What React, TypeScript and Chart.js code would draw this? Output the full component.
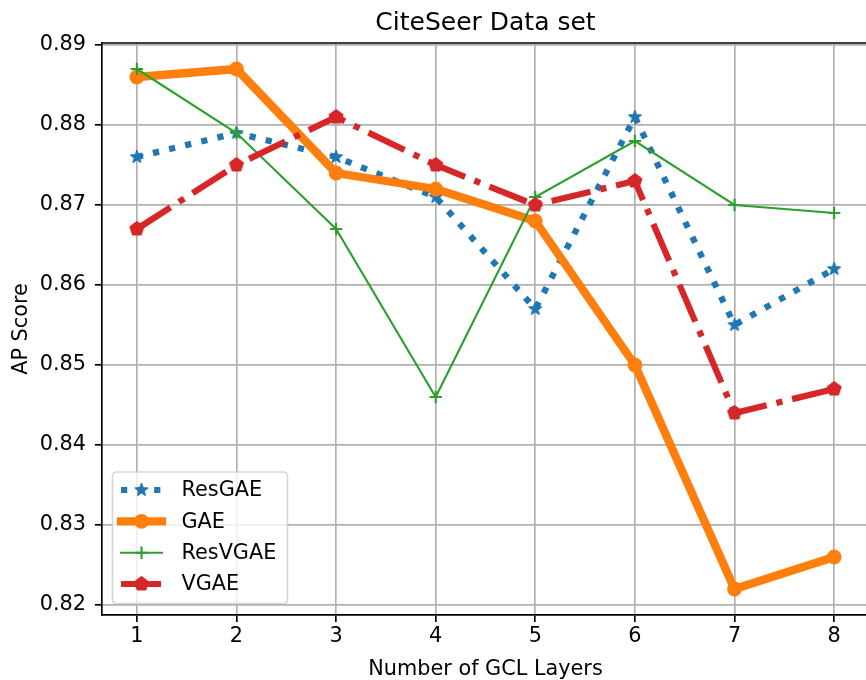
import { useEffect, useRef } from 'react';
import { Chart, registerables } from 'chart.js';

Chart.register(...registerables);

const layers = [1, 2, 3, 4, 5, 6, 7, 8];
const resGAE = [0.876, 0.879, 0.876, 0.871, 0.857, 0.881, 0.855, 0.862];
const gae = [0.886, 0.887, 0.874, 0.872, 0.868, 0.85, 0.822, 0.826];
const resVGAE = [0.887, 0.879, 0.867, 0.846, 0.871, 0.878, 0.87, 0.869];
const vgae = [0.867, 0.875, 0.881, 0.875, 0.87, 0.873, 0.844, 0.847];
const seriesNames = ['ResGAE', 'GAE', 'ResVGAE', 'VGAE'];
const xTicks = [1, 2, 3, 4, 5, 6, 7, 8];
const yTicks = [0.82, 0.83, 0.84, 0.85, 0.86, 0.87, 0.88, 0.89];
const titleText = 'CiteSeer Data set';
const xLabel = 'Number of GCL Layers';
const yLabel = 'AP Score';

const FONT = "'DejaVu Sans', sans-serif";
const BLUE = '#1f77b4';
const ORANGE = '#ff7f0e';
const GREEN = '#2ca02c';
const RED = '#d62728';
const PT = 2.083;

function polyPath(ctx: CanvasRenderingContext2D, cx: number, cy: number, r: number, n: number, inner: number) {
  ctx.beginPath();
  const pts = inner > 0 ? n * 2 : n;
  for (let i = 0; i < pts; i++) {
    const rr = inner > 0 && i % 2 === 1 ? r * inner : r;
    const a = -Math.PI / 2 + (i * 2 * Math.PI) / pts;
    const x = cx + rr * Math.cos(a);
    const y = cy + rr * Math.sin(a);
    if (i === 0) ctx.moveTo(x, y);
    else ctx.lineTo(x, y);
  }
  ctx.closePath();
}

function drawMarkerShape(ctx: CanvasRenderingContext2D, kind: string, cx: number, cy: number) {
  ctx.save();
  if (kind === 'star') {
    polyPath(ctx, cx, cy, 6.3, 5, 0.381966);
    ctx.fillStyle = BLUE;
    ctx.strokeStyle = BLUE;
    ctx.lineWidth = 1.6;
    ctx.lineJoin = 'round';
    ctx.fill();
    ctx.stroke();
  } else if (kind === 'pent') {
    polyPath(ctx, cx, cy, 6.9, 5, 0);
    ctx.fillStyle = RED;
    ctx.strokeStyle = RED;
    ctx.lineWidth = 1.8;
    ctx.lineJoin = 'round';
    ctx.fill();
    ctx.stroke();
  } else if (kind === 'circle') {
    ctx.beginPath();
    ctx.arc(cx, cy, 7.4, 0, Math.PI * 2);
    ctx.fillStyle = ORANGE;
    ctx.fill();
  } else if (kind === 'plus') {
    ctx.beginPath();
    ctx.moveTo(cx - 6.2, cy);
    ctx.lineTo(cx + 6.2, cy);
    ctx.moveTo(cx, cy - 6.2);
    ctx.lineTo(cx, cy + 6.2);
    ctx.strokeStyle = GREEN;
    ctx.lineWidth = PT;
    ctx.stroke();
  }
  ctx.restore();
}

function makeMarker(kind: string): HTMLCanvasElement {
  const c = document.createElement('canvas');
  c.width = 18;
  c.height = 18;
  const ctx = c.getContext('2d') as CanvasRenderingContext2D;
  drawMarkerShape(ctx, kind, 9, 9);
  return c;
}

const decorPlugin = {
  id: 'decor',
  afterDraw(chart: any) {
    const { ctx, chartArea: ca } = chart;
    ctx.save();
    // top spine
    ctx.strokeStyle = '#000';
    ctx.lineWidth = 0.8 * PT;
    ctx.beginPath();
    ctx.moveTo(ca.left, ca.top);
    ctx.lineTo(ca.right, ca.top);
    ctx.stroke();

    const axCenter = (ca.left + 869) / 2;
    ctx.fillStyle = '#000';
    ctx.textAlign = 'center';
    ctx.textBaseline = 'alphabetic';
    ctx.font = `25px ${FONT}`;
    ctx.fillText(titleText, axCenter, 30);
    ctx.font = `20.8px ${FONT}`;
    ctx.fillText(xLabel, axCenter, 675);
    ctx.save();
    ctx.translate(27, (ca.top + ca.bottom) / 2);
    ctx.rotate(-Math.PI / 2);
    ctx.fillText(yLabel, 0, 0);
    ctx.restore();

    // legend
    const bx = 112.5, by = 472, bw = 175, bh = 131.5, rad = 4;
    ctx.beginPath();
    ctx.moveTo(bx + rad, by);
    ctx.lineTo(bx + bw - rad, by);
    ctx.quadraticCurveTo(bx + bw, by, bx + bw, by + rad);
    ctx.lineTo(bx + bw, by + bh - rad);
    ctx.quadraticCurveTo(bx + bw, by + bh, bx + bw - rad, by + bh);
    ctx.lineTo(bx + rad, by + bh);
    ctx.quadraticCurveTo(bx, by + bh, bx, by + bh - rad);
    ctx.lineTo(bx, by + rad);
    ctx.quadraticCurveTo(bx, by, bx + rad, by);
    ctx.closePath();
    ctx.fillStyle = 'rgba(255,255,255,0.8)';
    ctx.fill();
    ctx.strokeStyle = 'rgba(204,204,204,0.8)';
    ctx.lineWidth = 1.6;
    ctx.stroke();

    const rows = [490, 521.3, 552.7, 584];
    const x0 = 121, x1 = 162, xm = 141.5;
    const styles = [
      { color: BLUE, width: 3 * PT, dash: [3 * PT, 4.95 * PT], cap: 'butt', marker: 'star' },
      { color: ORANGE, width: 4 * PT, dash: [], cap: 'square', marker: 'circle' },
      { color: GREEN, width: PT, dash: [], cap: 'square', marker: 'plus' },
      { color: RED, width: 3 * PT, dash: [19.2 * PT, 4.8 * PT, 3 * PT, 4.8 * PT], cap: 'butt', marker: 'pent' },
    ];
    styles.forEach((s, i) => {
      const y = rows[i];
      ctx.save();
      ctx.strokeStyle = s.color;
      ctx.lineWidth = s.width;
      ctx.setLineDash(s.dash);
      ctx.lineCap = s.cap;
      ctx.beginPath();
      ctx.moveTo(x0, y);
      ctx.lineTo(x1, y);
      ctx.stroke();
      ctx.restore();
      drawMarkerShape(ctx, s.marker, xm, y);
      ctx.fillStyle = '#000';
      ctx.textAlign = 'left';
      ctx.textBaseline = 'middle';
      ctx.font = `20.8px ${FONT}`;
      ctx.fillText(seriesNames[i], 181.5, y + 1);
    });
    ctx.restore();
  },
};

export default function App() {
  const ref = useRef<HTMLCanvasElement | null>(null);
  useEffect(() => {
    if (!ref.current) return;
    const star = makeMarker('star');
    const pent = makeMarker('pent');
    const toPts = (arr: number[]) => layers.map((x, i) => ({ x, y: arr[i] }));
    const chart = new Chart(ref.current, {
      type: 'line',
      data: {
        datasets: [
          {
            label: seriesNames[0],
            data: toPts(resGAE),
            borderColor: BLUE,
            backgroundColor: BLUE,
            borderWidth: 3 * PT,
            borderDash: [3 * PT, 4.95 * PT],
            borderCapStyle: 'butt',
            pointStyle: star,
            pointRadius: 7,
            tension: 0,
            order: 4,
          },
          {
            label: seriesNames[1],
            data: toPts(gae),
            borderColor: ORANGE,
            backgroundColor: ORANGE,
            borderWidth: 4 * PT,
            borderJoinStyle: 'round',
            pointStyle: 'circle',
            pointRadius: 7.4,
            pointBorderWidth: 0,
            pointBackgroundColor: ORANGE,
            tension: 0,
            order: 3,
          },
          {
            label: seriesNames[2],
            data: toPts(resVGAE),
            borderColor: GREEN,
            backgroundColor: GREEN,
            borderWidth: PT,
            pointStyle: 'cross',
            pointRadius: 6.2,
            pointBorderWidth: PT,
            pointBorderColor: GREEN,
            tension: 0,
            order: 2,
          },
          {
            label: seriesNames[3],
            data: toPts(vgae),
            borderColor: RED,
            backgroundColor: RED,
            borderWidth: 3 * PT,
            borderDash: [19.2 * PT, 4.8 * PT, 3 * PT, 4.8 * PT],
            borderCapStyle: 'butt',
            pointStyle: pent,
            pointRadius: 7.5,
            tension: 0,
            order: 1,
          },
        ] as any,
      },
      options: {
        responsive: false,
        animation: false,
        layout: { autoPadding: false, padding: { top: 43, left: 0, right: 0, bottom: 0 } },
        plugins: { legend: { display: false }, tooltip: { enabled: false }, title: { display: false } },
        scales: {
          x: {
            type: 'linear',
            min: 0.65,
            max: 8.32,
            afterFit: (s: any) => { s.height = 65; s.paddingRight = 0; },
            afterBuildTicks: (s: any) => { s.ticks = xTicks.map((v) => ({ value: v })); },
            ticks: {
              color: '#000',
              font: { family: FONT, size: 20.8 },
              padding: 2,
              maxRotation: 0,
              autoSkip: false,
              callback: (v: any) => String(v),
            },
            grid: { color: '#b0b0b0', lineWidth: 0.8 * PT, tickColor: '#000', tickLength: 7, tickWidth: 0.8 * PT },
            border: { display: true, color: '#000', width: 0.8 * PT },
          },
          y: {
            type: 'linear',
            min: 0.81875,
            max: 0.89025,
            afterFit: (s: any) => { s.width = 102; },
            afterBuildTicks: (s: any) => { s.ticks = yTicks.map((v) => ({ value: v })); },
            ticks: {
              color: '#000',
              font: { family: FONT, size: 20.8 },
              padding: 9,
              autoSkip: false,
              callback: (v: any) => Number(v).toFixed(2),
            },
            grid: { color: '#b0b0b0', lineWidth: 0.8 * PT, tickColor: '#000', tickLength: 7, tickWidth: 0.8 * PT },
            border: { display: true, color: '#000', width: 0.8 * PT },
          },
        },
      } as any,
      plugins: [decorPlugin],
    });
    return () => chart.destroy();
  }, []);
  return (
    <div style={{ position: 'fixed', left: 0, top: 0, width: 866, height: 680, background: '#fff', overflow: 'hidden' }}>
      <canvas ref={ref} width={866} height={680} style={{ display: 'block' }} />
    </div>
  );
}
